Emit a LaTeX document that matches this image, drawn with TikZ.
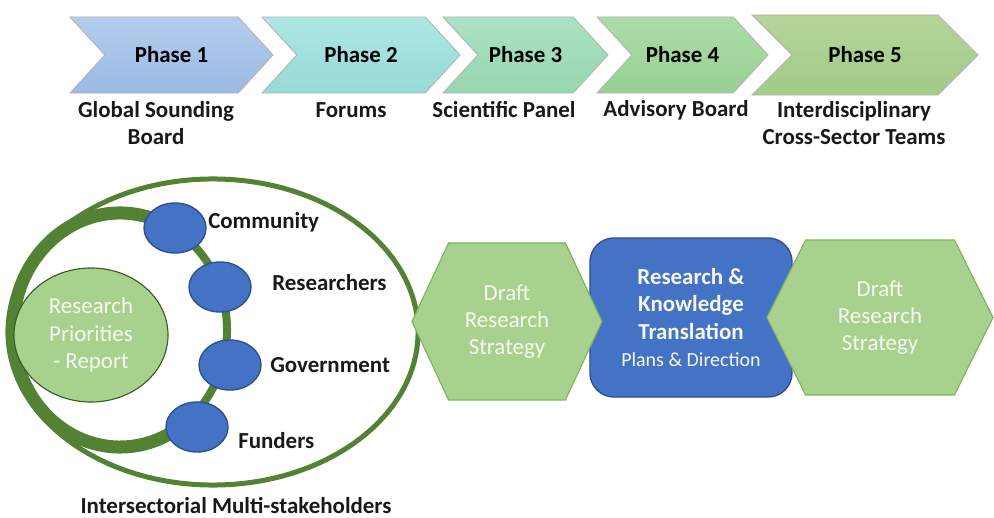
\documentclass[tikz,border=0pt]{standalone}
\usepackage{fontspec}
\setmainfont{Carlito}
\usetikzlibrary{shapes.symbols,shapes.geometric}

\definecolor{ringgreen}{HTML}{548235}
\definecolor{leafgreen}{HTML}{A9D18E}
\definecolor{leafedge}{HTML}{80B15E}
\definecolor{bluefill}{HTML}{4472C4}
\definecolor{blueedge}{HTML}{2F528F}
\definecolor{softwhite}{HTML}{F6F8F2}
% phase chevrons, light top / darker bottom
\definecolor{oneTop}{HTML}{B4CDEE}\definecolor{oneBot}{HTML}{9BB9E2}
\definecolor{twoTop}{HTML}{AEE7E4}\definecolor{twoBot}{HTML}{96DAD5}
\definecolor{threeTop}{HTML}{ACE1C5}\definecolor{threeBot}{HTML}{96D6B0}
\definecolor{fourTop}{HTML}{ADDCA8}\definecolor{fourBot}{HTML}{97D192}
\definecolor{fiveTop}{HTML}{B3D59C}\definecolor{fiveBot}{HTML}{A2CB86}

\newcommand{\diagfont}{\fontsize{16.3pt}{19.3pt}\selectfont}
\newcommand{\smalldiagfont}{\fontsize{14.2pt}{19.3pt}\selectfont}

\tikzset{
    phase/.style={shape=signal, signal from=west, signal to=east,
        signal pointer angle=95, draw=black!30, line width=0.6pt,
        minimum height=1.9cm, inner sep=0pt, font=\diagfont\bfseries},
    caption/.style={align=center, font=\diagfont\bfseries, text=black!90},
    member/.style={ellipse, draw=blueedge, fill=bluefill, line width=1pt,
        minimum width=1.55cm, minimum height=1.25cm, inner sep=0pt},
    who/.style={anchor=west, font=\diagfont\bfseries, text=black!90, inner sep=0pt},
    strategy/.style={shape=signal, signal to=west and east, draw=leafedge,
        fill=leafgreen, line width=0.8pt, inner sep=0pt, align=center,
        font=\diagfont, text=softwhite}
}

\begin{document}
\begin{tikzpicture}[x=0.025cm, y=-0.025cm]
    \useasboundingbox (0,0) rectangle (994,518);

    % phases along the top
    \node[phase, minimum width=5.075cm, top color=oneTop, bottom color=oneBot] (p1) at (171.5,55) {Phase 1};
    \node[phase, minimum width=4.95cm, top color=twoTop, bottom color=twoBot] (p2) at (361,55) {Phase 2};
    \node[phase, minimum width=4.125cm, top color=threeTop, bottom color=threeBot] (p3) at (525.5,55) {Phase 3};
    \node[phase, minimum width=4.275cm, top color=fourTop, bottom color=fourBot] (p4) at (682.5,55) {Phase 4};
    \node[phase, minimum width=5.65cm, minimum height=2cm, signal pointer angle=90, top color=fiveTop, bottom color=fiveBot] (p5) at (865,55) {Phase 5};

    \node[caption] (c1) at (156,123) {Global Sounding\\Board};
    \node[caption] (c2) at (351,110) {Forums};
    \node[caption] (c3) at (504,110) {Scientific Panel};
    \node[caption] (c4) at (676,110) {Advisory Board};
    \node[caption] (c5) at (854,123) {Interdisciplinary\\Cross-Sector Teams};

    % stakeholder ring
    \draw[ringgreen, line width=0.125cm] (213,332) ellipse [x radius=5.125cm, y radius=3.825cm];
    \coordinate (ringc) at (120,330);
    \draw[ringgreen, line width=0.2cm] (ringc) ++(60:2.675cm and 2.925cm)
        arc[start angle=60, end angle=-49, x radius=2.675cm, y radius=2.925cm];
    \draw[ringgreen, line width=0.325cm] (ringc) ++(311:2.675cm and 2.925cm)
        arc[start angle=311, end angle=60, x radius=2.675cm, y radius=2.925cm];

    \node[ellipse, draw=ringgreen!70!black, fill=leafgreen, line width=0.8pt,
        minimum width=3.85cm, minimum height=3.35cm, align=center,
        font=\diagfont, text=softwhite] (prio) at (91,335) {Research\\Priorities\\- Report};

    \node[member] (comm) at (175,228) {};
    \node[member] (res) at (220,287) {};
    \node[member] (gov) at (230,365) {};
    \node[member] (fund) at (197,427) {};

    \node[who] (commtxt) at (208,222) {Community};
    \node[who] (restxt) at (272,283) {Researchers};
    \node[who] (govtxt) at (270,365) {Government};
    \node[who] (fundtxt) at (238,441) {Funders};
    \node[caption] (inter) at (236,506) {Intersectorial Multi-stakeholders};

    % strategy and translation
    \node[draw=blueedge, fill=bluefill, line width=1pt, rounded corners=0.6cm,
        minimum width=5.05cm, minimum height=3.975cm, align=center,
        text=softwhite, font=\diagfont\bfseries] (rkt) at (691,317.5)
        {Research \&\\Knowledge\\Translation\\{\smalldiagfont\mdseries Plans \& Direction}};
    \node[strategy, signal pointer angle=130, minimum width=4.75cm, minimum height=3.925cm] (draft1) at (507,321.5) {Draft\\Research\\Strategy};
    \node[strategy, signal pointer angle=127, minimum width=5.65cm, minimum height=3.875cm] (draft2) at (880,317.5) {Draft\\Research\\Strategy};
\end{tikzpicture}
\end{document}
